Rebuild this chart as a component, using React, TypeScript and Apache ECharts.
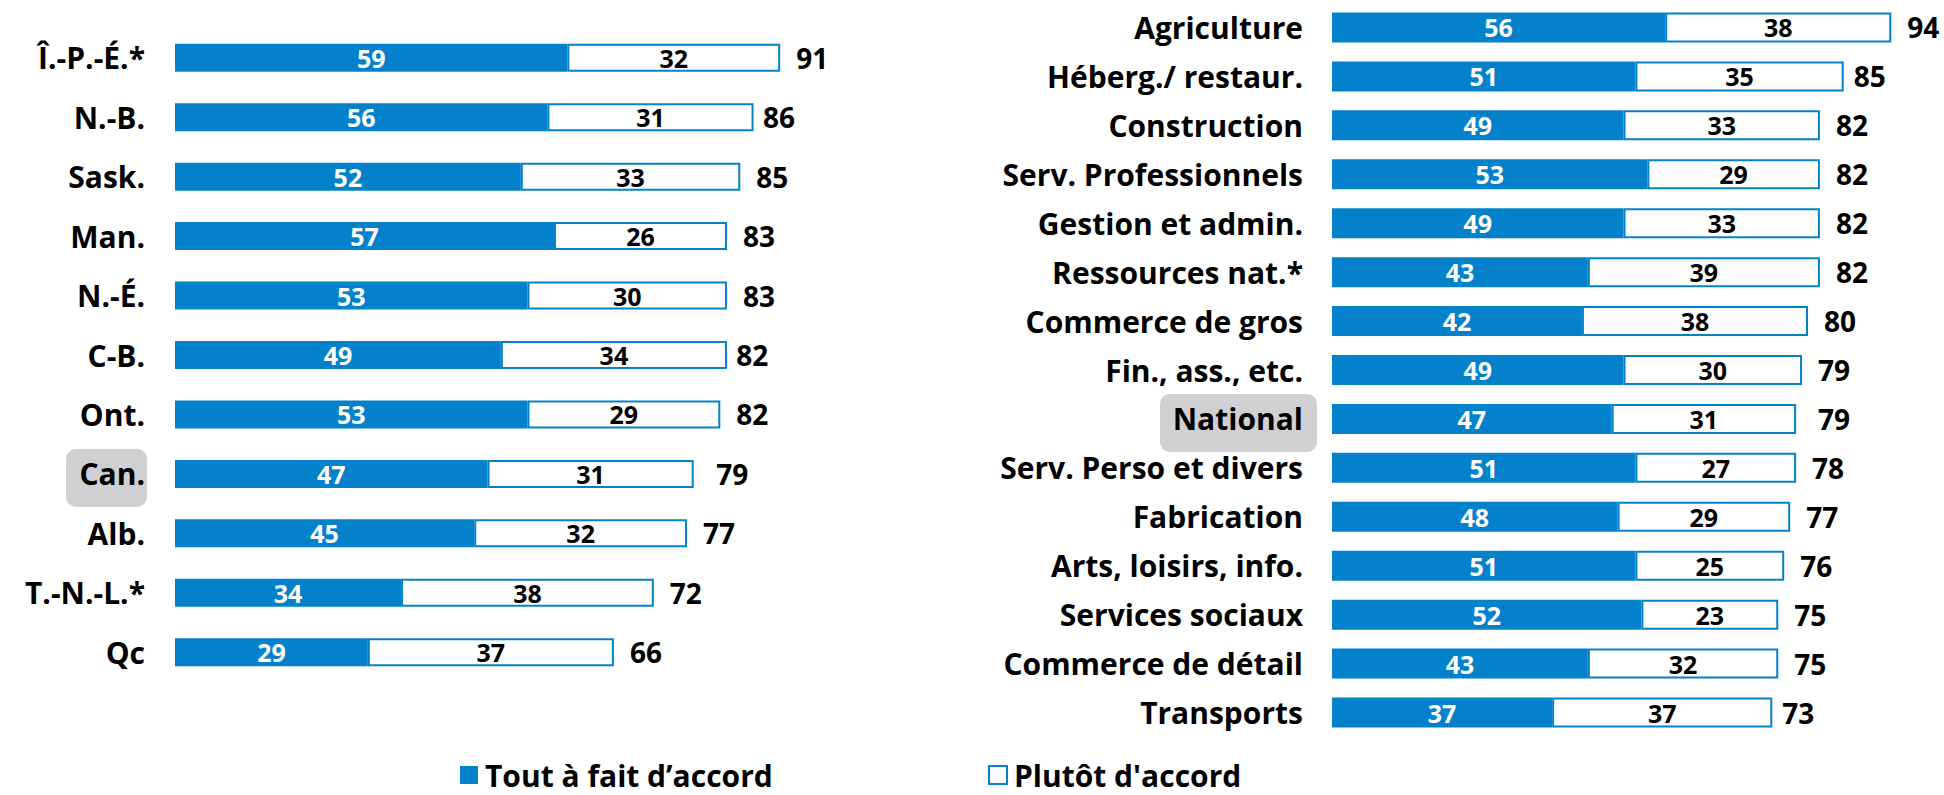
import React, { useEffect, useRef } from "react";
import * as echarts from "echarts";

// ---------- data ----------
const provinces = ["Î.-P.-É.*", "N.-B.", "Sask.", "Man.", "N.-É.", "C-B.", "Ont.", "Can.", "Alb.", "T.-N.-L.*", "Qc"];
const provStrong = [59, 56, 52, 57, 53, 49, 53, 47, 45, 34, 29];
const provSomewhat = [32, 31, 33, 26, 30, 34, 29, 31, 32, 38, 37];
const provTotals = [91, 86, 85, 83, 83, 82, 82, 79, 77, 72, 66];

const sectors = [
  "Agriculture",
  "Héberg./ restaur.",
  "Construction",
  "Serv. Professionnels",
  "Gestion et admin.",
  "Ressources nat.*",
  "Commerce de gros",
  "Fin., ass., etc.",
  "National",
  "Serv. Perso et divers",
  "Fabrication",
  "Arts, loisirs, info.",
  "Services sociaux",
  "Commerce de détail",
  "Transports",
];
const sectStrong = [56, 51, 49, 53, 49, 43, 42, 49, 47, 51, 48, 51, 52, 43, 37];
const sectSomewhat = [38, 35, 33, 29, 33, 39, 38, 30, 31, 27, 29, 25, 23, 32, 37];
const sectTotals = [94, 85, 82, 82, 82, 82, 80, 79, 79, 78, 77, 76, 75, 75, 73];

const SERIES_STRONG = "Tout à fait d’accord";
const SERIES_SOMEWHAT = "Plutôt d'accord";

// ---------- styles ----------
const BLUE = "#0382cb";
const FONT = "'Open Sans', 'Noto Sans', sans-serif";
const HIGHLIGHT = "#d0d0d2";

const LEFT_GRID = { left: 175, top: 28, width: 665, height: 654 };
const RIGHT_GRID = { left: 1332, top: 3, width: 595, height: 734 };

const catLabel = (margin: number) => ({
  margin,
  fontSize: 30,
  fontWeight: "bold" as const,
  color: "#000",
  fontFamily: FONT,
});

const innerLabel = (color: string) => ({
  show: true,
  position: "inside" as const,
  color,
  fontSize: 25,
  fontWeight: "bold" as const,
  fontFamily: FONT,
});

function buildSeries(idx: number, strong: number[], somewhat: number[], totals: number[], barWidth: number) {
  return [
    {
      type: "bar",
      name: "total" + idx,
      xAxisIndex: idx,
      yAxisIndex: idx,
      barWidth,
      barGap: "-100%",
      z: 1,
      silent: true,
      data: totals,
      itemStyle: { color: "rgba(0,0,0,0)" },
      label: {
        show: true,
        position: "right",
        distance: 16,
        color: "#000",
        fontSize: 28,
        fontWeight: "bold",
        fontFamily: FONT,
      },
    },
    {
      type: "bar",
      name: SERIES_STRONG,
      xAxisIndex: idx,
      yAxisIndex: idx,
      stack: "s" + idx,
      barWidth,
      barGap: "-100%",
      z: 2,
      data: strong,
      itemStyle: { color: BLUE },
      label: innerLabel("#fff"),
    },
    {
      type: "bar",
      name: SERIES_SOMEWHAT,
      xAxisIndex: idx,
      yAxisIndex: idx,
      stack: "s" + idx,
      barWidth,
      barGap: "-100%",
      z: 2,
      data: somewhat,
      itemStyle: { color: "#fff", borderColor: BLUE, borderWidth: 2 },
      label: innerLabel("#000"),
    },
  ];
}

export default function App() {
  const ref = useRef<HTMLDivElement>(null);

  useEffect(() => {
    if (!ref.current) return;
    const chart = echarts.init(ref.current, undefined, { renderer: "svg" });

    const legendText = {
      fontSize: 30,
      fontWeight: "bold",
      color: "#000",
      fontFamily: FONT,
      lineHeight: 30,
      padding: [0, 0, 0, 2],
    };

    const option: any = {
      animation: false,
      backgroundColor: "#fff",
      grid: [
        { ...LEFT_GRID, containLabel: false },
        { ...RIGHT_GRID, containLabel: false },
      ],
      xAxis: [
        { type: "value", gridIndex: 0, min: 0, max: 100, show: false },
        { type: "value", gridIndex: 1, min: 0, max: 100, show: false },
      ],
      yAxis: [
        {
          type: "category",
          gridIndex: 0,
          inverse: true,
          data: provinces,
          axisLine: { show: false },
          axisTick: { show: false },
          splitLine: { show: false },
          axisLabel: catLabel(30),
        },
        {
          type: "category",
          gridIndex: 1,
          inverse: true,
          data: sectors,
          axisLine: { show: false },
          axisTick: { show: false },
          splitLine: { show: false },
          axisLabel: catLabel(29),
        },
      ],
      legend: [
        {
          left: 455,
          top: 755,
          icon: "rect",
          itemWidth: 18,
          itemHeight: 18,
          selectedMode: false,
          textStyle: legendText,
          data: [{ name: SERIES_STRONG, itemStyle: { color: BLUE } }],
        },
        {
          left: 983,
          top: 755,
          icon: "rect",
          itemWidth: 18,
          itemHeight: 18,
          selectedMode: false,
          textStyle: legendText,
          data: [{ name: SERIES_SOMEWHAT, itemStyle: { color: "#fff", borderColor: BLUE, borderWidth: 2 } }],
        },
      ],
      series: [
        ...buildSeries(0, provStrong, provSomewhat, provTotals, 28),
        ...buildSeries(1, sectStrong, sectSomewhat, sectTotals, 30),
      ],
    };
    chart.setOption(option);

    // highlight boxes behind the "Can." and "National" axis labels
    const boxes = [
      { axis: 0, cat: "Can.", gridLeft: LEFT_GRID.left, from: 109, to: 28 },
      { axis: 1, cat: "National", gridLeft: RIGHT_GRID.left, from: 172, to: 15 },
    ];
    const graphic = boxes.map((b) => {
      const cy = chart.convertToPixel({ yAxisIndex: b.axis } as any, b.cat) as number;
      return {
        type: "rect",
        z: -10,
        silent: true,
        shape: { x: b.gridLeft - b.from, y: cy - 25, width: b.from - b.to, height: 58, r: 10 },
        style: { fill: HIGHLIGHT },
      };
    });
    chart.setOption({ graphic });

    return () => chart.dispose();
  }, []);

  return (
    <div
      ref={ref}
      style={{ position: "absolute", left: 0, top: 0, width: 1944, height: 795 }}
    />
  );
}
